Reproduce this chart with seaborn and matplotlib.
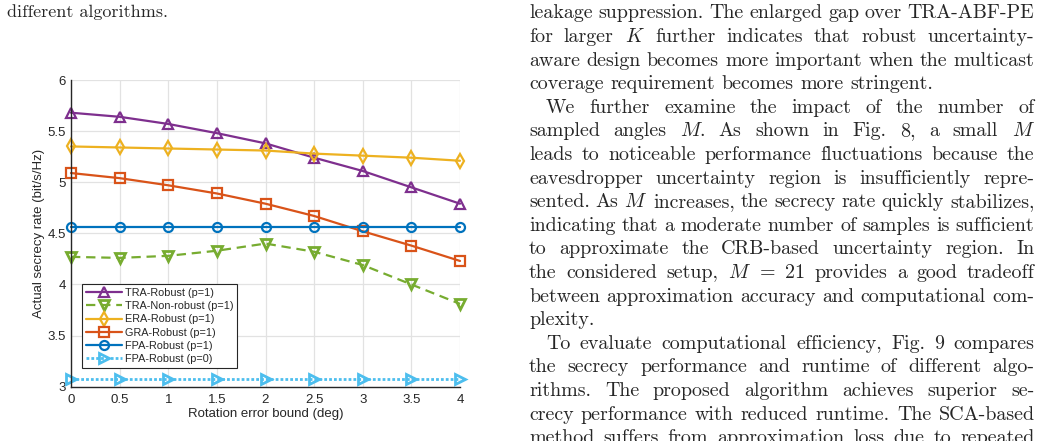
import numpy as np
import pandas as pd
import matplotlib
matplotlib.use("Agg")
import matplotlib.pyplot as plt
from matplotlib.ticker import FuncFormatter
import seaborn as sns

# ---------------- data ----------------
rotation_error_deg = [0, 0.5, 1, 1.5, 2, 2.5, 3, 3.5, 4]
tra_robust_p1 = [5.68, 5.64, 5.57, 5.48, 5.38, 5.24, 5.11, 4.95, 4.79]
tra_nonrobust_p1 = [4.27, 4.26, 4.28, 4.33, 4.40, 4.32, 4.19, 4.00, 3.81]
era_robust_p1 = [5.35, 5.34, 5.33, 5.32, 5.31, 5.28, 5.26, 5.24, 5.21]
gra_robust_p1 = [5.09, 5.04, 4.97, 4.89, 4.79, 4.67, 4.52, 4.38, 4.23]
fpa_robust_p1 = [4.56, 4.56, 4.56, 4.56, 4.56, 4.56, 4.56, 4.56, 4.56]
fpa_robust_p0 = [3.08, 3.08, 3.08, 3.08, 3.08, 3.08, 3.08, 3.08, 3.08]

series_labels = ["TRA-Robust (p=1)", "TRA-Non-robust (p=1)", "ERA-Robust (p=1)",
                 "GRA-Robust (p=1)", "FPA-Robust (p=1)", "FPA-Robust (p=0)"]
series_values = [tra_robust_p1, tra_nonrobust_p1, era_robust_p1,
                 gra_robust_p1, fpa_robust_p1, fpa_robust_p0]

caption_tail = "different algorithms."
body_lines = [
    ("leakage suppression. The enlarged gap over TRA-ABF-PE", True, False),
    ("for larger $K$ further indicates that robust uncertainty-", True, False),
    ("aware design becomes more important when the multicast", True, False),
    ("coverage requirement becomes more stringent.", False, False),
    ("We further examine the impact of the number of", True, True),
    ("sampled angles $M$. As shown in Fig. 8, a small $M$", True, False),
    ("leads to noticeable performance fluctuations because the", True, False),
    ("eavesdropper uncertainty region is insufficiently repre-", True, False),
    ("sented. As $M$ increases, the secrecy rate quickly stabilizes,", True, False),
    ("indicating that a moderate number of samples is sufficient", True, False),
    ("to approximate the CRB-based uncertainty region. In", True, False),
    ("the considered setup, $M$ = 21 provides a good tradeoff", True, False),
    ("between approximation accuracy and computational com-", True, False),
    ("plexity.", False, False),
    ("To evaluate computational efficiency, Fig. 9 compares", True, True),
    ("the secrecy performance and runtime of different algo-", True, False),
    ("rithms. The proposed algorithm achieves superior se-", True, False),
    ("crecy performance with reduced runtime. The SCA-based", True, False),
    ("method suffers from approximation loss due to repeated", True, False),
]

# ---------------- style ----------------
sns.set_style("white")
plt.rcParams["font.family"] = ["Liberation Sans", "DejaVu Sans"]
plt.rcParams["mathtext.fontset"] = "cm"

colors = ["#7E2F8E", "#77AC30", "#EDB120", "#D95319", "#0072BD", "#4DBEEE"]
markers = ["^", "v", "d", "s", "o", ">"]
styles = ["-", (0, (4.2, 2.6)), "-", "-", "-", (0, (1.0, 0.75))]
lws = [1.6, 1.6, 1.6, 1.6, 1.6, 2.0]
msizes = [7.5, 7.5, 7.5, 6.5, 6.5, 7.5]
mews = [1.6, 2.0, 1.6, 1.6, 1.6, 2.0]

W, H = 1042, 441
fig = plt.figure(figsize=(W / 100, H / 100), dpi=100)
ax_l, ax_r, ax_t, ax_b = 71, 460, 80, 386.7
ax = fig.add_axes([ax_l / W, 1 - ax_b / H, (ax_r - ax_l) / W, (ax_b - ax_t) / H])

for lab, vals, c, m, ls, lw, ms, mew in zip(series_labels, series_values, colors,
                                             markers, styles, lws, msizes, mews):
    sns.lineplot(x=rotation_error_deg, y=vals, ax=ax, color=c, marker=m,
                 markersize=ms, markerfacecolor="none", markeredgecolor=c,
                 markeredgewidth=mew, linewidth=lw, linestyle=ls, label=lab,
                 clip_on=False)

ax.set_xlim(0, 4)
ax.set_ylim(3, 6)
ax.set_xticks(rotation_error_deg)
ax.set_yticks([3, 3.5, 4, 4.5, 5, 5.5, 6])
fmt = FuncFormatter(lambda v, p: f"{v:g}")
ax.xaxis.set_major_formatter(fmt)
ax.yaxis.set_major_formatter(fmt)
ax.grid(True, color="#e2e2e2", linewidth=0.9)
ax.set_axisbelow(True)
for s in ["top", "right"]:
    ax.spines[s].set_visible(False)
for s in ["left", "bottom"]:
    ax.spines[s].set_color("#262626")
    ax.spines[s].set_linewidth(1.0)
ax.tick_params(direction="in", length=3, width=0.8, colors="#262626",
               labelsize=9.5, top=False, right=False)
ax.tick_params(axis="x", pad=5)
ax.tick_params(axis="y", pad=3.5)
ax.set_xlabel("Rotation error bound (deg)", fontsize=9.5, color="#262626")
ax.set_ylabel("Actual secrecy rate (bit/s/Hz)", fontsize=9.5, color="#262626")
ax.xaxis.set_label_coords(0.5, (ax_b - 408) / (ax_b - ax_t))
ax.yaxis.set_label_coords((45 - ax_l) / (ax_r - ax_l), 0.5)

leg = ax.legend(loc="lower left",
                bbox_to_anchor=((82 - ax_l) / (ax_r - ax_l), (ax_b - 368) / (ax_b - ax_t)),
                borderaxespad=0, frameon=True, fancybox=False, edgecolor="#262626",
                framealpha=1, fontsize=7.8, handlelength=3.3, handletextpad=0.3,
                labelspacing=0.3, borderpad=0.35)
leg.get_frame().set_linewidth(0.8)
for t in leg.get_texts():
    t.set_color("#262626")

# ---------------- surrounding page text ----------------
renderer = fig.canvas.get_renderer()
body_fs = 14.4
em_px = body_fs * 100 / 72
left_px, right_px, indent_px = 529, 1034.5, 17
first_base, line_step = 18.5, 23.6

fig.text(7 / W, 1 - 17 / H, caption_tail, fontsize=13, family="cmr10",
         ha="left", va="baseline")

for i, (line, justify, indent) in enumerate(body_lines):
    y = 1 - (first_base + i * line_step) / H
    words = line.split(" ")
    objs = [fig.text(0, y, w, fontsize=body_fs, family="cmr10", ha="left",
                     va="baseline") for w in words]
    widths = [o.get_window_extent(renderer).width for o in objs]
    x0 = left_px + (indent_px if indent else 0)
    if justify and len(words) > 1:
        gap = (right_px - x0 - sum(widths)) / (len(words) - 1)
    else:
        gap = 0.333 * em_px
    x = x0
    for o, w in zip(objs, widths):
        o.set_x(x / W)
        x += w + gap

fig.savefig("out.png", dpi=100)
